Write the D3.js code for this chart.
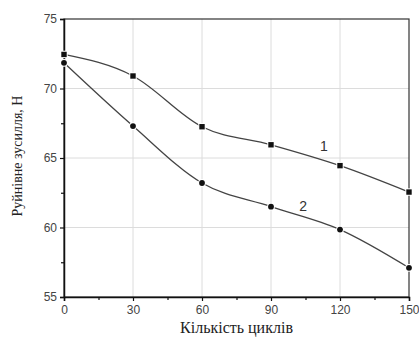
<!DOCTYPE html>
<html>
<head>
<meta charset="utf-8">
<script src="https://cdn.jsdelivr.net/npm/d3@7"></script>
<style>
  body { margin: 0; background: #fff; }
  svg { display: block; }
</style>
</head>
<body>
<svg id="chart" width="419" height="338"></svg>
<script>
// data
const cycles = [0, 30, 60, 90, 120, 150];
const force1 = [72.45, 70.9, 67.25, 65.95, 64.45, 62.55];
const force2 = [71.85, 67.3, 63.2, 61.5, 59.85, 57.1];
const xTicks = [0, 30, 60, 90, 120, 150];
const yTicks = [55, 60, 65, 70, 75];

const margin = {left: 64, right: 10, top: 19, bottom: 41};
const width = 419, height = 338;

const svg = d3.select('#chart');
const x = d3.scaleLinear().domain([0, 150]).range([margin.left, width - margin.right]);
const y = d3.scaleLinear().domain([55, 75]).range([height - margin.bottom, margin.top]);

// grid
svg.append('g').selectAll('line.gx')
    .data(xTicks.slice(1, -1))
    .enter().append('line')
    .attr('x1', d => x(d)).attr('x2', d => x(d))
    .attr('y1', y(55)).attr('y2', y(75))
    .attr('stroke', '#dcdcdc').attr('stroke-width', 1);
svg.append('g').selectAll('line.gy')
    .data(yTicks.slice(1, -1))
    .enter().append('line')
    .attr('x1', x(0)).attr('x2', x(150))
    .attr('y1', d => y(d)).attr('y2', d => y(d))
    .attr('stroke', '#dcdcdc').attr('stroke-width', 1);

// frame
svg.append('rect')
    .attr('x', x(0)).attr('y', y(75))
    .attr('width', x(150) - x(0)).attr('height', y(55) - y(75))
    .attr('fill', 'none').attr('stroke', '#333').attr('stroke-width', 1.2);

// axes
svg.append('g')
    .attr('transform', 'translate(0,' + y(55) + ')')
    .call(d3.axisBottom(x).tickValues(xTicks).tickSize(4).tickPadding(4));
svg.append('g')
    .attr('transform', 'translate(0,' + y(55) + ')')
    .call(d3.axisBottom(x).tickValues([15, 45, 75, 105, 135]).tickSize(3).tickFormat(''))
    .select('.domain').remove();
svg.append('g')
    .attr('transform', 'translate(' + x(0) + ',0)')
    .call(d3.axisLeft(y).tickValues(yTicks).tickSize(4).tickPadding(3));
svg.append('g')
    .attr('transform', 'translate(' + x(0) + ',0)')
    .call(d3.axisLeft(y).tickValues([57.5, 62.5, 67.5, 72.5]).tickSize(3).tickFormat(''))
    .select('.domain').remove();

svg.selectAll('.domain').attr('stroke', '#111').attr('stroke-width', 1.5);
svg.selectAll('.tick line').attr('stroke', '#111').attr('stroke-width', 1.2);
svg.selectAll('.tick text')
    .attr('font-family', 'Liberation Sans, Arial, sans-serif')
    .attr('font-size', 12).attr('fill', '#444');

// curves
const line = d3.line()
    .x(d => x(d[0])).y(d => y(d[1]))
    .curve(d3.curveMonotoneX);

const s1 = cycles.map((c, i) => [c, force1[i]]);
const s2 = cycles.map((c, i) => [c, force2[i]]);

[s1, s2].forEach(s => {
    svg.append('path')
        .datum(s)
        .attr('d', line)
        .attr('fill', 'none')
        .attr('stroke', '#444')
        .attr('stroke-width', 1.3);
});

// markers, white outline makes the little gap in the line
svg.append('g').selectAll('rect')
    .data(s1)
    .enter().append('rect')
    .attr('x', d => x(d[0]) - 2.7).attr('y', d => y(d[1]) - 2.7)
    .attr('width', 5.4).attr('height', 5.4)
    .attr('fill', '#111').attr('stroke', '#fff').attr('stroke-width', 2)
    .attr('paint-order', 'stroke');
svg.append('g').selectAll('circle')
    .data(s2)
    .enter().append('circle')
    .attr('cx', d => x(d[0])).attr('cy', d => y(d[1]))
    .attr('r', 2.9)
    .attr('fill', '#111').attr('stroke', '#fff').attr('stroke-width', 2)
    .attr('paint-order', 'stroke');

// series labels
svg.append('text').attr('x', x(113)).attr('y', y(65.5))
    .attr('font-family', 'Liberation Sans, Arial, sans-serif').attr('font-size', 14)
    .attr('fill', '#333').attr('text-anchor', 'middle').text('1');
svg.append('text').attr('x', x(104)).attr('y', y(61.2))
    .attr('font-family', 'Liberation Sans, Arial, sans-serif').attr('font-size', 14)
    .attr('fill', '#333').attr('text-anchor', 'middle').text('2');

// axis titles
svg.append('text')
    .attr('x', (x(0) + x(150)) / 2).attr('y', 333)
    .attr('text-anchor', 'middle')
    .attr('font-family', 'Liberation Serif, Times New Roman, serif')
    .attr('font-size', 16).attr('fill', '#222')
    .text('Кількість циклів');
svg.append('text')
    .attr('transform', 'translate(22,' + ((y(55) + y(75)) / 2 - 2) + ') rotate(-90)')
    .attr('text-anchor', 'middle')
    .attr('font-family', 'Liberation Serif, Times New Roman, serif')
    .attr('font-size', 14).attr('fill', '#222')
    .text('Руйнівне зусилля, Н');
</script>
</body>
</html>
